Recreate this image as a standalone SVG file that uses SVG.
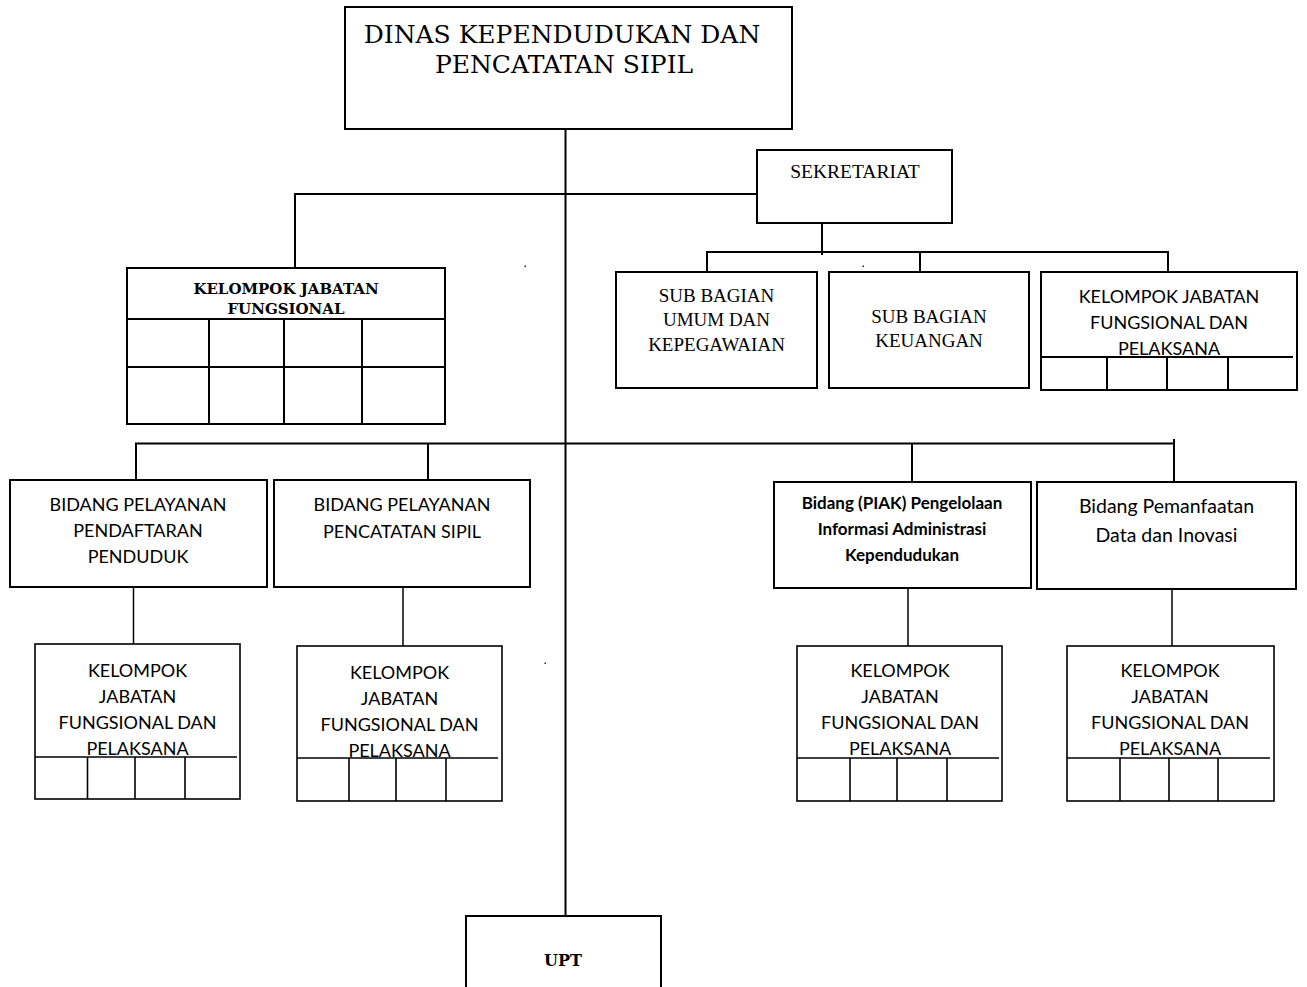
<svg xmlns="http://www.w3.org/2000/svg" width="1307" height="987" viewBox="0 0 1307 987">
<style>
.box{fill:#fff;stroke:#000;stroke-width:2}
.thin{fill:none;stroke:#000;stroke-width:1.6}
.con{fill:none;stroke:#000;stroke-width:2}
.con2{fill:none;stroke:#000;stroke-width:1.5}
.title{font-family:"DejaVu Serif",serif;font-size:25px;fill:#000;text-anchor:middle}
.serb{font-family:"DejaVu Serif",serif;font-weight:bold;fill:#000;text-anchor:middle}
.ser{font-family:"Liberation Serif",serif;font-size:19px;fill:#000;text-anchor:middle}
.sans{font-family:Lato,"Liberation Sans",sans-serif;font-size:18px;fill:#000;text-anchor:middle}
.sans2{font-family:Lato,"Liberation Sans",sans-serif;font-size:18px;fill:#000;text-anchor:middle}
.sansb{font-family:Lato,"Liberation Sans",sans-serif;font-size:17px;font-weight:bold;fill:#000;text-anchor:middle}
</style>
<rect width="1307" height="987" fill="#fff"/>
<g id="connectors">
<line class="con" x1="565.5" y1="129" x2="565.5" y2="916"/>
<polyline class="con" points="295,268 295,194 757,194"/>
<line class="con" x1="822" y1="223" x2="822" y2="255"/>
<polyline class="con" points="707,272 707,252 1168,252 1168,272"/>
<line class="con" x1="920" y1="252" x2="920" y2="272"/>
<polyline class="con" points="136,483 136,443.5 1174,443.5"/>
<line class="con" x1="1174" y1="439" x2="1174" y2="482"/>
<line class="con" x1="428" y1="443.5" x2="428" y2="482"/>
<line class="con" x1="912" y1="443.5" x2="912" y2="482"/>
<line class="con2" x1="133.5" y1="587" x2="133.5" y2="644"/>
<line class="con2" x1="403" y1="587" x2="403" y2="646"/>
<line class="con2" x1="908" y1="588" x2="908" y2="646"/>
<line class="con2" x1="1172" y1="589" x2="1172" y2="646"/>
</g>
<g id="marks" fill="#222">
<rect x="524.5" y="265.5" width="1.5" height="1.5"/>
<rect x="862.5" y="265.5" width="1.5" height="1.5"/>
<rect x="544.5" y="662.5" width="1.5" height="1.5"/>
</g>
<g id="dinas">
<rect class="box" x="345" y="7" width="447" height="122"/>
<text class="title" x="562" y="43">DINAS KEPENDUDUKAN DAN</text>
<text class="title" x="564" y="73">PENCATATAN SIPIL</text>
</g>
<g id="sekretariat">
<rect class="box" x="757" y="150" width="195" height="73"/>
<text class="ser" x="855" y="178" style="font-size:19.5px">SEKRETARIAT</text>
</g>
<g id="kjf-top">
<rect class="box" x="127" y="268" width="318" height="156"/>
<line class="con" x1="127" y1="319" x2="445" y2="319"/>
<line class="con" x1="127" y1="367" x2="445" y2="367"/>
<line class="con" x1="209" y1="319" x2="209" y2="424"/>
<line class="con" x1="284" y1="319" x2="284" y2="424"/>
<line class="con" x1="362" y1="319" x2="362" y2="424"/>
<text class="serb" x="286" y="294" style="font-size:15px">KELOMPOK JABATAN</text>
<text class="serb" x="286" y="314" style="font-size:15px">FUNGSIONAL</text>
</g>
<g id="sub-umum">
<rect class="box" x="616" y="272" width="201" height="116"/>
<text class="ser" x="716.5" y="302">SUB BAGIAN</text>
<text class="ser" x="716.5" y="326">UMUM DAN</text>
<text class="ser" x="716.5" y="351">KEPEGAWAIAN</text>
</g>
<g id="sub-keuangan">
<rect class="box" x="829" y="272" width="200" height="116"/>
<text class="ser" x="929" y="323">SUB BAGIAN</text>
<text class="ser" x="929" y="347">KEUANGAN</text>
</g>
<g id="kjf-sekretariat">
<rect class="box" x="1041" y="272" width="256" height="118"/>
<line class="con" x1="1041" y1="357" x2="1293" y2="357"/>
<line class="con" x1="1107" y1="357" x2="1107" y2="390"/>
<line class="con" x1="1167" y1="357" x2="1167" y2="390"/>
<line class="con" x1="1228" y1="357" x2="1228" y2="390"/>
<text class="sans" x="1169" y="303">KELOMPOK JABATAN</text>
<text class="sans" x="1169" y="329">FUNGSIONAL DAN</text>
<text class="sans" x="1169" y="355">PELAKSANA</text>
</g>
<g id="bidang-pendaftaran">
<rect class="box" x="10" y="480" width="257" height="107"/>
<text class="sans" x="138" y="511">BIDANG PELAYANAN</text>
<text class="sans" x="138" y="537">PENDAFTARAN</text>
<text class="sans" x="138" y="563">PENDUDUK</text>
</g>
<g id="bidang-pencatatan">
<rect class="box" x="274" y="480" width="256" height="107"/>
<text class="sans" x="402" y="511">BIDANG PELAYANAN</text>
<text class="sans" x="402" y="538">PENCATATAN SIPIL</text>
</g>
<g id="bidang-piak">
<rect class="box" x="774" y="482" width="257" height="106"/>
<text class="sansb" x="902" y="509">Bidang (PIAK) Pengelolaan</text>
<text class="sansb" x="902" y="535">Informasi Administrasi</text>
<text class="sansb" x="902" y="561">Kependudukan</text>
</g>
<g id="bidang-pemanfaatan">
<rect class="box" x="1037" y="482" width="259" height="107"/>
<text class="sans" x="1166.5" y="513" style="font-size:19.5px">Bidang Pemanfaatan</text>
<text class="sans" x="1166.5" y="542" style="font-size:19.5px">Data dan Inovasi</text>
</g>
<g id="kjf-a">
<rect class="thin" x="35" y="644" width="205" height="155"/>
<line class="thin" x1="35" y1="757" x2="237" y2="757"/>
<line class="thin" x1="87.5" y1="757" x2="87.5" y2="799"/>
<line class="thin" x1="135" y1="757" x2="135" y2="799"/>
<line class="thin" x1="185" y1="757" x2="185" y2="799"/>
<text class="sans2" x="137.5" y="677">KELOMPOK</text>
<text class="sans2" x="137.5" y="703">JABATAN</text>
<text class="sans2" x="137.5" y="729">FUNGSIONAL DAN</text>
<text class="sans2" x="137.5" y="755">PELAKSANA</text>
</g>
<g id="kjf-b">
<rect class="thin" x="297" y="646" width="205" height="155"/>
<line class="thin" x1="297" y1="758" x2="498" y2="758"/>
<line class="thin" x1="349" y1="758" x2="349" y2="801"/>
<line class="thin" x1="396" y1="758" x2="396" y2="801"/>
<line class="thin" x1="446" y1="758" x2="446" y2="801"/>
<text class="sans2" x="399.5" y="679">KELOMPOK</text>
<text class="sans2" x="399.5" y="705">JABATAN</text>
<text class="sans2" x="399.5" y="731">FUNGSIONAL DAN</text>
<text class="sans2" x="399.5" y="757">PELAKSANA</text>
</g>
<g id="kjf-c">
<rect class="thin" x="797" y="646" width="205" height="155"/>
<line class="thin" x1="797" y1="758" x2="999" y2="758"/>
<line class="thin" x1="850" y1="758" x2="850" y2="801"/>
<line class="thin" x1="897" y1="758" x2="897" y2="801"/>
<line class="thin" x1="947" y1="758" x2="947" y2="801"/>
<text class="sans2" x="900" y="677">KELOMPOK</text>
<text class="sans2" x="900" y="703">JABATAN</text>
<text class="sans2" x="900" y="729">FUNGSIONAL DAN</text>
<text class="sans2" x="900" y="755">PELAKSANA</text>
</g>
<g id="kjf-d">
<rect class="thin" x="1067" y="646" width="207" height="155"/>
<line class="thin" x1="1067" y1="758" x2="1270" y2="758"/>
<line class="thin" x1="1120" y1="758" x2="1120" y2="801"/>
<line class="thin" x1="1169" y1="758" x2="1169" y2="801"/>
<line class="thin" x1="1218" y1="758" x2="1218" y2="801"/>
<text class="sans2" x="1170" y="677">KELOMPOK</text>
<text class="sans2" x="1170" y="703">JABATAN</text>
<text class="sans2" x="1170" y="729">FUNGSIONAL DAN</text>
<text class="sans2" x="1170" y="755">PELAKSANA</text>
</g>
<g id="upt">
<rect class="box" x="466" y="916" width="195" height="80"/>
<text class="serb" x="563" y="966" style="font-size:16px">UPT</text>
</g>
</svg>
